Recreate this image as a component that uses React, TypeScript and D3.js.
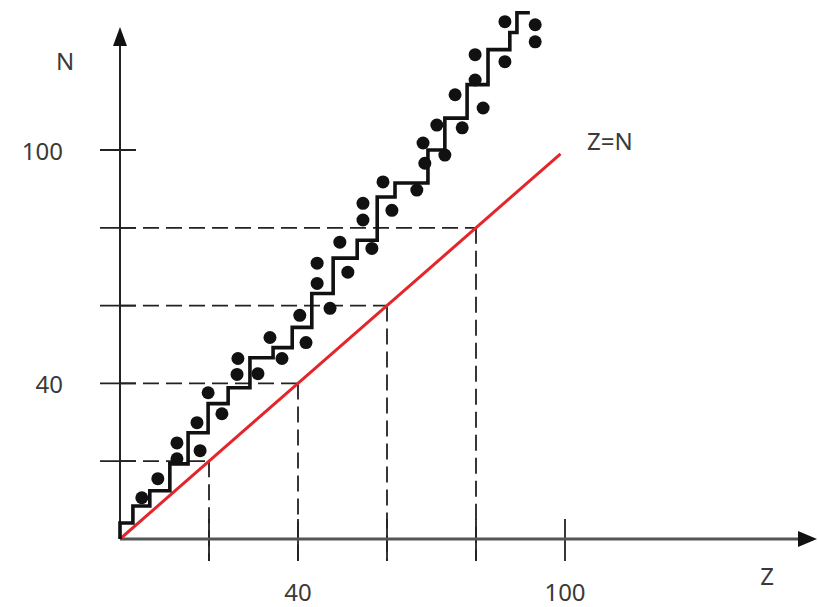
import React from 'react';
import * as d3 from 'd3';

// stable nuclei (Z, N)
const dotZ = [4.9, 8.5, 12.8, 12.8, 18.0, 17.3, 22.9, 19.8, 26.5, 26.3, 31.0, 33.7, 36.4, 40.4, 41.8, 44.3, 44.3, 47.2, 51.2, 49.4, 56.6, 54.6, 54.6, 59.1, 61.1, 66.7, 68.1, 68.5, 71.2, 73.0, 75.3, 76.9, 79.8, 79.8, 81.6, 86.5, 86.5, 93.3, 93.3];
const dotN = [10.6, 15.5, 24.7, 20.6, 22.7, 29.9, 32.2, 37.6, 46.4, 42.3, 42.5, 51.8, 46.4, 57.5, 50.5, 70.9, 65.7, 59.3, 68.6, 76.3, 74.7, 86.3, 82.0, 91.8, 84.5, 89.7, 101.8, 96.6, 106.4, 98.7, 114.2, 105.7, 124.5, 118.0, 110.8, 133.0, 122.7, 132.2, 127.8];

// stability staircase corners (end of each horizontal run)
const stepZ = [0, 2.9, 6.7, 11.2, 15.3, 19.8, 24.3, 29.2, 34.4, 38.7, 43.1, 47.9, 53.3, 57.8, 61.8, 69.2, 73.0, 78.0, 82.7, 87.6, 89.2, 92.1];
const stepN = [0, 4.1, 8.5, 12.4, 19.3, 27.3, 34.8, 38.9, 46.6, 49.2, 54.4, 63.1, 72.2, 76.8, 87.9, 91.5, 100.0, 108.2, 116.8, 125.8, 130.2, 135.3];

const guideValues = [20, 40, 60, 80];
const xTickValues = [20, 40, 60, 80, 100];
const yTickValues = [20, 40, 60, 80, 100];
const xTickLabels = [40, 100];
const yTickLabels = [40, 100];
const lineEnd = 99;

const FONT = '"Noto Sans", "Open Sans", sans-serif';
const TEXT = '#3a3a3a';

export default function App() {
  const width = 818;
  const height = 607;
  const x = d3.scaleLinear().domain([0, 100]).range([120, 565]);
  const y = d3.scaleLinear().domain([0, 100]).range([539, 150]);

  const x0 = x(0);
  const y0 = y(0);

  const stairs = d3.line<number>()
    .x((_, i) => x(stepZ[i]))
    .y((_, i) => y(stepN[i]))
    .curve(d3.curveStepBefore);

  return (
    <svg width={width} height={height} style={{ position: 'absolute', left: 0, top: 0, background: '#fff' }}>
      {/* guide dashes */}
      {guideValues.map(v => (
        <g key={'g' + v} stroke="#222" strokeWidth={1.8} strokeDasharray="16,7" fill="none">
          <line x1={x0} x2={x(v)} y1={y(v)} y2={y(v)} />
          <line x1={x(v)} x2={x(v)} y1={y(v)} y2={y0 + 22} />
        </g>
      ))}
      {/* ticks */}
      {xTickValues.map(v => (
        <line key={'xt' + v} x1={x(v)} x2={x(v)} y1={y0 - 20} y2={y0 + 22} stroke="#222" strokeWidth={1.8} />
      ))}
      {yTickValues.map(v => (
        <line key={'yt' + v} x1={x0 - 20} x2={x0 + 16} y1={y(v)} y2={y(v)} stroke="#222" strokeWidth={1.8} />
      ))}

      {/* axes */}
      <line x1={x0} x2={x0} y1={y0} y2={40} stroke="#222" strokeWidth={2} />
      <path d={`M${x0},27 L${x0 - 7},46 L${x0 + 7},46 Z`} fill="#111" />
      <line x1={x0} x2={800} y1={y0} y2={y0} stroke="#555" strokeWidth={3} />
      <path d={`M817,${y0} L798,${y0 - 8} L798,${y0 + 8} Z`} fill="#111" />

      {/* Z = N */}
      <line x1={x(0)} y1={y(0)} x2={x(lineEnd)} y2={y(lineEnd)} stroke="#e3262b" strokeWidth={3} />

      {/* staircase */}
      <path d={stairs(stepZ) ?? ''} fill="none" stroke="#111" strokeWidth={3.6} />

      {/* nuclei */}
      {dotZ.map((z, i) => (
        <circle key={'d' + i} cx={x(z)} cy={y(dotN[i])} r={6.5} fill="#111" />
      ))}

      {/* labels */}
      <g fontFamily={FONT} fontSize={24} fill={TEXT}>
        {yTickLabels.map(v => (
          <text key={'yl' + v} x={x0 - 57} y={y(v)} textAnchor="end" dominantBaseline="central">{v}</text>
        ))}
        {xTickLabels.map(v => (
          <text key={'xl' + v} x={x(v)} y={591} textAnchor="middle" dominantBaseline="central">{v}</text>
        ))}
        <text x={65} y={60} textAnchor="middle" dominantBaseline="central">N</text>
        <text x={767} y={575} textAnchor="middle" dominantBaseline="central">Z</text>
        <text x={587} y={140} dominantBaseline="central">Z=N</text>
      </g>
    </svg>
  );
}
